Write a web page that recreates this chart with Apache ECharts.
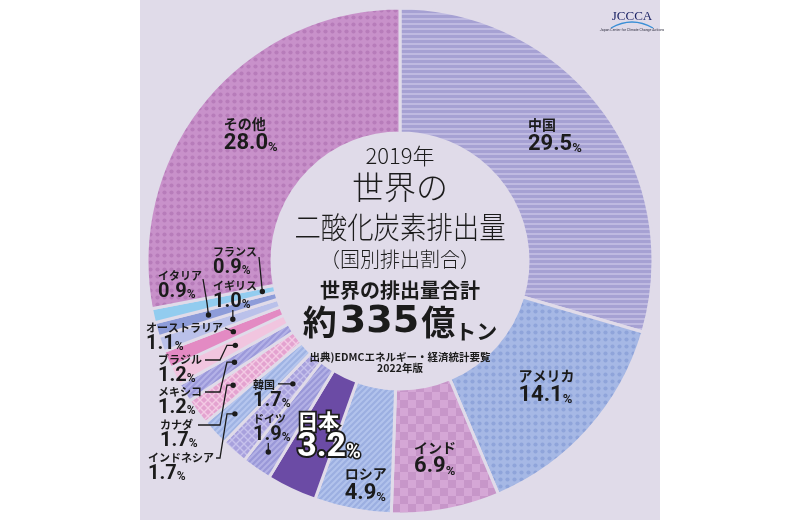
<!DOCTYPE html>
<html>
<head>
<meta charset="utf-8">
<script src="https://cdn.jsdelivr.net/npm/echarts@6.0.0/dist/echarts.min.js"></script>
<style>
html,body{margin:0;padding:0;background:#ffffff;}
#chart{width:800px;height:520px;}
</style>
</head>
<body>
<div id="chart"></div>
<script>
// ---------------- data ----------------
const countries = ['中国','アメリカ','インド','ロシア','日本','ドイツ','韓国','インドネシア','カナダ','メキシコ','ブラジル','オーストラリア','イギリス','イタリア','フランス','その他'];
const shares    = [29.5, 14.1, 6.9, 4.9, 3.2, 1.9, 1.7, 1.7, 1.7, 1.2, 1.2, 1.1, 1.0, 0.9, 0.9, 28.0];
const titleYear = '2019年';
const titleLines = ['世界の', '二酸化炭素排出量'];
const subtitle = '（国別排出割合）';
const totalCaption = '世界の排出量合計';
const totalNumber = '335';
const sourceLines = ['出典)EDMCエネルギー・経済統計要覧', '2022年版'];

// ---------------- layout / style ----------------
const CX = 400, CY = 261, R_IN = 128, R_OUT = 253;
const BG = '#e0dbe9';
const INK = '#1b1b1b';
const JP = '"Noto Sans CJK JP","Noto Sans",sans-serif';
const NUM = 'Roboto,"Liberation Sans",sans-serif';
const BIGNUM = '"DejaVu Sans",Roboto,sans-serif';

function tile(w, h, draw) {
  const c = document.createElement('canvas');
  c.width = w; c.height = h;
  draw(c.getContext('2d'), w, h);
  return { image: c, repeat: 'repeat' };
}
function hStripes(a, b) {
  return tile(4, 5, (g, w, h) => { g.fillStyle = a; g.fillRect(0, 0, w, h); g.fillStyle = b; g.fillRect(0, 3, w, 2); });
}
function dots(base, dot) {
  return tile(7, 7, (g, w, h) => { g.fillStyle = base; g.fillRect(0, 0, w, h); g.fillStyle = dot; g.beginPath(); g.arc(3.5, 3.5, 2.1, 0, Math.PI * 2); g.fill(); });
}
function checker(a, b, s) {
  return tile(2 * s, 2 * s, (g) => { g.fillStyle = a; g.fillRect(0, 0, 2 * s, 2 * s); g.fillStyle = b; g.fillRect(0, 0, s, s); g.fillRect(s, s, s, s); });
}
function diag(a, b) {
  return tile(6, 6, (g, w, h) => {
    g.fillStyle = a; g.fillRect(0, 0, w, h);
    g.strokeStyle = b; g.lineWidth = 2; g.beginPath();
    g.moveTo(-1, 7); g.lineTo(7, -1); g.moveTo(-1, 1); g.lineTo(1, -1); g.moveTo(5, 7); g.lineTo(7, 5);
    g.stroke();
  });
}
function cross(a, b) {
  return tile(8, 8, (g, w, h) => {
    g.fillStyle = a; g.fillRect(0, 0, w, h);
    g.strokeStyle = b; g.lineWidth = 1.4; g.beginPath();
    g.moveTo(0, 0); g.lineTo(8, 8); g.moveTo(8, 0); g.lineTo(0, 8);
    g.stroke();
  });
}

const fills = [
  hStripes('#a6a1d3', '#bfbae1'),   // 中国
  dots('#a6b8e5', '#8fa4da'),       // アメリカ
  checker('#d5a7d6', '#c796c9', 8), // インド
  diag('#9cafe1', '#b2c3ec'),       // ロシア
  '#6b4ba5',                        // 日本
  diag('#9a98d8', '#b3b1e5'),       // ドイツ
  cross('#a8a1dd', '#c6c1ec'),      // 韓国
  diag('#9fb3e3', '#b6c6ee'),       // インドネシア
  cross('#e4a3d0', '#f3cae4'),      // カナダ
  diag('#9c99da', '#b4b2e7'),       // メキシコ
  '#f1c5df',                        // ブラジル
  '#e38ac3',                        // オーストラリア
  '#bac1ea',                        // イギリス
  '#8d9cd9',                        // イタリア
  '#92ccef',                        // フランス
  dots('#c891ca', '#b77cba')        // その他
];

// offsets for the inside labels of the large slices
const bigLabelOffset = { '中国': [0, -9], 'アメリカ': [2, -3], 'インド': [0, 7], 'ロシア': [2, 34], '日本': [12, 0], 'その他': [0, -3] };

// callout placement for the small slices (label top-left, dot radius, leader elbows)
const callouts = {
  'ドイツ':         { x: 253, y: 412, r: 232, via: d => [[d[0], 443]] },
  '韓国':           { x: 253, y: 378, r: 163, via: d => [[278, d[1]]] },
  'インドネシア':   { x: 148, y: 451, r: 225, via: d => [[227, d[1]], [220, 458], [216, 458]] },
  'カナダ':         { x: 160, y: 418, r: 208, via: d => [[227, d[1]], [220, 425], [198, 425]] },
  'メキシコ':       { x: 158, y: 385, r: 194, via: d => [[227, d[1]], [220, 392], [205, 392]] },
  'ブラジル':       { x: 158, y: 353, r: 185, via: d => [[227, d[1]], [220, 360], [205, 360]] },
  'オーストラリア': { x: 146, y: 321, r: 181, via: d => [[225, 328]] },
  'イギリス':       { x: 213, y: 279, r: 177, via: d => [[d[0], 310]] },
  'イタリア':       { x: 158, y: 269, r: 199, via: d => [[207, 303], [203, 279]] },
  'フランス':       { x: 213, y: 245, r: 141, via: d => [[259, 257]] }
};

const total = shares.reduce((a, b) => a + b, 0);
const midAngles = [];
(function () { let cum = 0; shares.forEach(v => { midAngles.push((cum + v / 2) / total * 360); cum += v; }); })();
function polar(r, deg) { const a = deg * Math.PI / 180; return [CX + r * Math.sin(a), CY - r * Math.cos(a)]; }
function dotPos(i) { return polar(callouts[countries[i]].r, midAngles[i]); }

const bigRich = {
  n: { fontFamily: JP, fontSize: 14, fontWeight: 'bold', color: INK, lineHeight: 17, align: 'left' },
  v: { fontFamily: NUM, fontSize: 22, fontWeight: 'bold', color: INK, lineHeight: 22, align: 'left' },
  p: { fontFamily: NUM, fontSize: 13, fontWeight: 'bold', color: INK, lineHeight: 14, verticalAlign: 'bottom', align: 'left' }
};
const jpRich = {
  n: { fontFamily: JP, fontSize: 21, fontWeight: 'bold', color: '#ffffff', textBorderColor: INK, textBorderWidth: 3.5, lineHeight: 24, align: 'left' },
  v: { fontFamily: NUM, fontSize: 34, fontWeight: 'bold', color: '#ffffff', textBorderColor: INK, textBorderWidth: 4, lineHeight: 30, align: 'left' },
  p: { fontFamily: NUM, fontSize: 20, fontWeight: 'bold', color: '#ffffff', textBorderColor: INK, textBorderWidth: 3, lineHeight: 20, verticalAlign: 'bottom', align: 'left' }
};
const smallRich = {
  n: { fontFamily: JP, fontSize: 11, fontWeight: 'bold', color: INK, lineHeight: 13 },
  v: { fontFamily: NUM, fontSize: 20, fontWeight: 'bold', color: INK, lineHeight: 19 },
  p: { fontFamily: NUM, fontSize: 12, fontWeight: 'bold', color: INK, lineHeight: 12, verticalAlign: 'bottom' }
};

const pieData = countries.map((name, i) => {
  const item = { name: name, value: shares[i], itemStyle: { color: fills[i] } };
  if (callouts[name]) {
    item.label = { position: 'outside', rich: smallRich };
    item.labelLine = { show: false };
  } else {
    item.label = { position: 'inside', offset: bigLabelOffset[name] || [0, 0], rich: name === '日本' ? jpRich : bigRich };
  }
  return item;
});

// ---------------- graphics ----------------
const graphics = [
  { type: 'rect', z: -10, silent: true, shape: { x: 140, y: 0, width: 520, height: 520 }, style: { fill: BG } },
  { type: 'text', z: 50, x: CX, y: 156, style: { text: titleYear, fontFamily: JP, fontSize: 22, fontWeight: 300, fill: INK, align: 'center', verticalAlign: 'middle' } },
  { type: 'text', z: 50, x: CX, y: 187, style: { text: titleLines[0], fontFamily: JP, fontSize: 32, fontWeight: 300, fill: INK, align: 'center', verticalAlign: 'middle' } },
  { type: 'text', z: 50, x: CX, y: 227, scaleX: 0.88, style: { text: titleLines[1], fontFamily: JP, fontSize: 30, fontWeight: 300, fill: INK, align: 'center', verticalAlign: 'middle' } },
  { type: 'text', z: 50, x: CX, y: 259, style: { text: subtitle, fontFamily: JP, fontSize: 20, fontWeight: 300, fill: INK, align: 'center', verticalAlign: 'middle' } },
  { type: 'text', z: 50, x: CX, y: 290, style: { text: totalCaption, fontFamily: JP, fontSize: 20, fontWeight: 'bold', fill: INK, align: 'center', verticalAlign: 'middle' } },
  { type: 'text', z: 50, x: CX, y: 322, style: {
      text: '{a|約}{d|' + totalNumber + '}{a|億}{t|トン}', align: 'center', verticalAlign: 'middle',
      rich: {
        a: { fontFamily: JP, fontSize: 34, fontWeight: 'bold', fill: INK, lineHeight: 40 },
        d: { fontFamily: BIGNUM, fontSize: 38, fontWeight: 'bold', fill: INK, lineHeight: 40, padding: [0, 2, 0, 3] },
        t: { fontFamily: JP, fontSize: 21, fontWeight: 'bold', fill: INK, lineHeight: 26, verticalAlign: 'bottom' }
      } } },
  { type: 'text', z: 50, x: CX, y: 357, style: { text: sourceLines[0], fontFamily: JP, fontSize: 10.5, fontWeight: 'bold', fill: INK, align: 'center', verticalAlign: 'middle' } },
  { type: 'text', z: 50, x: CX, y: 368, style: { text: sourceLines[1], fontFamily: JP, fontSize: 10.5, fontWeight: 'bold', fill: INK, align: 'center', verticalAlign: 'middle' } },
  // logo
  { type: 'text', z: 50, x: 632, y: 17, style: { text: 'JCCCA', fontFamily: '"Liberation Serif",serif', fontSize: 13, fill: '#1d2466', align: 'center', verticalAlign: 'middle' } },
  { type: 'bezierCurve', z: 50, shape: { x1: 611, y1: 28, x2: 653, y2: 28, cpx1: 632, cpy1: 16 }, style: { stroke: '#3a8fd6', lineWidth: 1.4, fill: null } },
  { type: 'text', z: 50, x: 632, y: 30, style: { text: 'Japan Center for Climate Change Actions', fontFamily: 'Roboto', fontSize: 3.5, fill: '#334', align: 'center', verticalAlign: 'middle' } }
];
// leader lines and dots for the small slices, anchored at each slice's mid angle
countries.forEach((name, i) => {
  const c = callouts[name];
  if (!c) return;
  const d = dotPos(i);
  graphics.push({ type: 'polyline', z: 59, silent: true, shape: { points: [d].concat(c.via(d)) }, style: { stroke: INK, lineWidth: 1.3, fill: null } });
  graphics.push({ type: 'circle', z: 60, silent: true, shape: { cx: d[0], cy: d[1], r: 2.7 }, style: { fill: INK } });
});

const chart = echarts.init(document.getElementById('chart'), null, { renderer: 'canvas' });
chart.setOption({
  backgroundColor: '#ffffff',
  animation: false,
  graphic: { elements: graphics },
  series: [{
    type: 'pie',
    center: [CX, CY],
    radius: [R_IN, R_OUT],
    startAngle: 90,
    clockwise: true,
    avoidLabelOverlap: false,
    silent: true,
    itemStyle: { borderColor: BG, borderWidth: 3 },
    label: {
      show: true,
      formatter: p => '{n|' + p.name + '}\n{v|' + p.value.toFixed(1) + '}{p|%}'
    },
    labelLine: { show: false },
    labelLayout: function (params) {
      const c = callouts[countries[params.dataIndex]];
      if (!c) return {};
      return { x: c.x, y: c.y, align: 'left', verticalAlign: 'top' };
    },
    data: pieData
  }]
});
</script>
</body>
</html>
